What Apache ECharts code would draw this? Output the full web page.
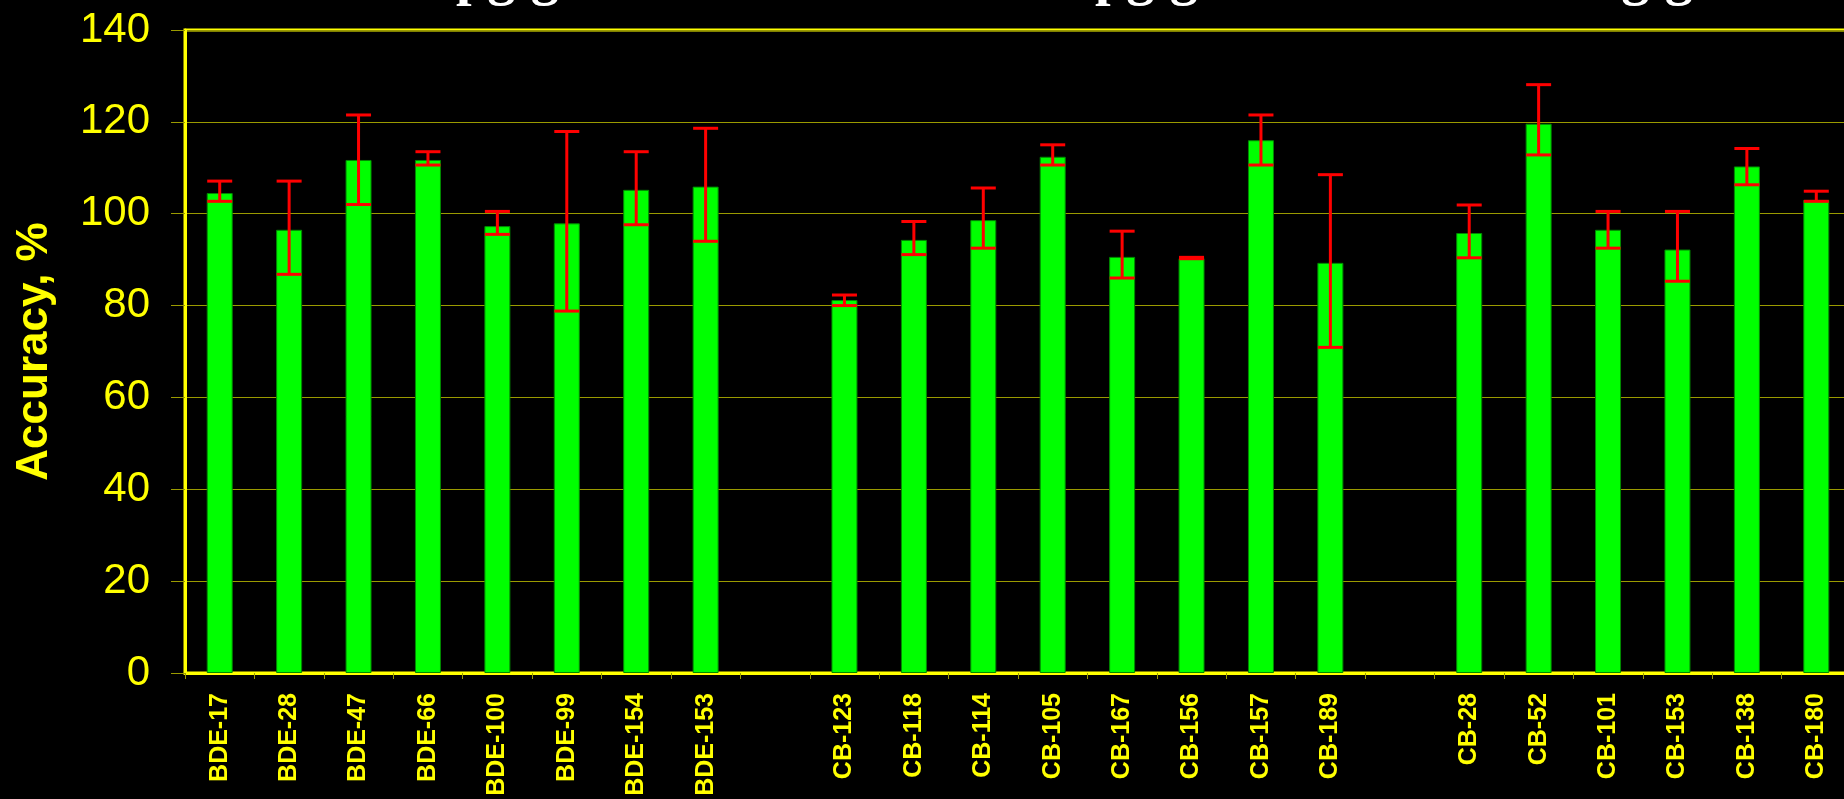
<!DOCTYPE html>
<html>
<head>
<meta charset="utf-8">
<style>
html,body{margin:0;padding:0;background:#000;}
#chart{width:1844px;height:799px;}
</style>
<script src="https://cdn.jsdelivr.net/npm/echarts@6/dist/echarts.min.js"></script>
</head>
<body>
<div id="chart"></div>
<script>
// Categories ('' = empty spacer slot between groups)
const categories = ['BDE-17','BDE-28','BDE-47','BDE-66','BDE-100','BDE-99','BDE-154','BDE-153','',
  'CB-123','CB-118','CB-114','CB-105','CB-167','CB-156','CB-157','CB-189','',
  'CB-28','CB-52','CB-101','CB-153','CB-138','CB-180'];
// Mean accuracy, %
const accuracy = [104.5, 96.5, 111.7, 111.7, 97.3, 97.9, 105.2, 105.9, null,
  81.2, 94.3, 98.6, 112.4, 90.6, 90.3, 116.0, 89.3, null,
  95.8, 119.6, 96.5, 92.2, 110.3, 103.0];
// Error bar low / high ends
const errLow = [102.7, 86.8, 102.0, 110.6, 95.5, 78.8, 97.6, 94.0, null,
  80.0, 91.1, 92.5, 110.6, 86.0, 90.2, 110.6, 70.9, null,
  90.4, 112.8, 92.5, 85.3, 106.3, 102.7];
const errHigh = [107.1, 107.1, 121.5, 113.5, 100.5, 117.9, 113.5, 118.6, null,
  82.3, 98.3, 105.6, 115.0, 96.2, 90.5, 121.5, 108.5, null,
  101.9, 128.1, 100.5, 100.5, 114.2, 104.9];
const yTicks = [0, 20, 40, 60, 80, 100, 120, 140];
// Group headings (only descenders visible, cut off at the top)
const groupTitles = ['pg/g', 'pg/g', 'ng/g'];

const YELLOW = '#ffff00';
const OLIVE = '#9a9a00';

const chart = echarts.init(document.getElementById('chart'));

const errData = categories.map((c, i) => [i, errLow[i], errHigh[i]]).filter(d => d[1] != null);

chart.setOption({
  backgroundColor: '#000',
  animation: false,
  grid: {
    left: 185, top: 30, width: 1666, height: 643,
    containLabel: false, outerBoundsMode: 'none',
    show: true, borderColor: YELLOW, borderWidth: 3, backgroundColor: 'transparent'
  },
  graphic: [
    {type: 'text', left: 456, top: -48, style: {text: groupTitles[0], fill: '#fff', font: 'bold 56px "Liberation Serif"'}},
    {type: 'text', left: 1095, top: -48, style: {text: groupTitles[1], fill: '#fff', font: 'bold 56px "Liberation Serif"'}},
    {type: 'text', left: 1590, top: -48, style: {text: groupTitles[2], fill: '#fff', font: 'bold 56px "Liberation Serif"'}}
  ],
  xAxis: {
    type: 'category',
    data: categories,
    boundaryGap: true,
    axisLine: {lineStyle: {color: YELLOW, width: 3}},
    axisTick: {show: true, alignWithLabel: false, interval: 0, length: 6, lineStyle: {color: OLIVE, width: 1}},
    axisLabel: {
      interval: 0, rotate: 90, margin: 20,
      color: YELLOW, fontSize: 25, fontWeight: 'bold', fontFamily: '"Liberation Sans", Arial, sans-serif'
    },
    splitLine: {show: false}
  },
  yAxis: {
    type: 'value',
    min: yTicks[0], max: yTicks[yTicks.length - 1], interval: 20,
    name: 'Accuracy, %',
    nameLocation: 'middle',
    nameRotate: 90,
    nameGap: 128,
    nameTextStyle: {color: YELLOW, fontSize: 44, fontWeight: 'bold', fontFamily: '"Liberation Sans", Arial, sans-serif'},
    axisLine: {show: true, lineStyle: {color: YELLOW, width: 3}},
    axisTick: {show: true, length: 14, lineStyle: {color: OLIVE, width: 1}},
    axisLabel: {color: YELLOW, fontSize: 42, margin: 35, fontFamily: '"Liberation Sans", Arial, sans-serif'},
    splitLine: {show: true, lineStyle: {color: OLIVE, width: 1}}
  },
  series: [
    {
      type: 'bar',
      data: accuracy.map(v => v == null ? '-' : v),
      barWidth: 26,
      itemStyle: {color: '#00ff00', borderColor: '#008a00', borderWidth: 1},
      z: 2
    },
    {
      type: 'custom',
      z: 3,
      data: errData,
      renderItem: function (params, api) {
        const x = api.value(0);
        const lo = api.coord([x, api.value(1)]);
        const hi = api.coord([x, api.value(2)]);
        const half = 12.5;
        const st = {stroke: '#ff0000', lineWidth: 3};
        return {
          type: 'group',
          children: [
            {type: 'line', shape: {x1: lo[0], y1: lo[1], x2: hi[0], y2: hi[1]}, style: st},
            {type: 'line', shape: {x1: hi[0] - half, y1: hi[1], x2: hi[0] + half, y2: hi[1]}, style: st},
            {type: 'line', shape: {x1: lo[0] - half, y1: lo[1], x2: lo[0] + half, y2: lo[1]}, style: st}
          ]
        };
      }
    }
  ]
});
</script>
</body>
</html>
